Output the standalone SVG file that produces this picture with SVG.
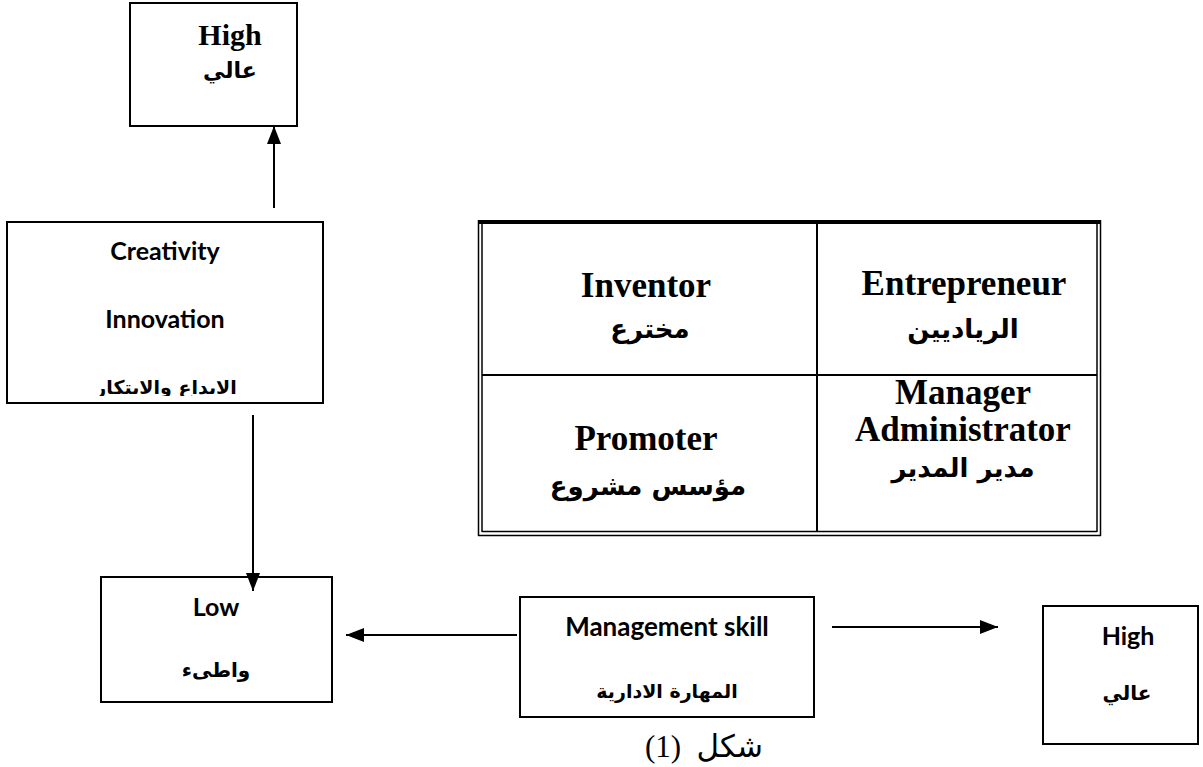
<svg xmlns="http://www.w3.org/2000/svg" width="1203" height="767" viewBox="0 0 1203 767">
<style>
.box{fill:#fff;stroke:#000;stroke-width:2}
.cal{font-family:Lato,"Liberation Sans","DejaVu Sans",sans-serif;font-weight:bold;font-size:25px;text-anchor:middle;fill:#000}
.tnr{font-family:"Liberation Serif","DejaVu Serif",serif;font-weight:bold;font-size:35px;text-anchor:middle;fill:#000}
.ar{font-family:"DejaVu Sans","Noto Sans",sans-serif;font-weight:bold;font-size:19px;text-anchor:middle;fill:#000}
.arT{font-family:"DejaVu Sans","Noto Sans",sans-serif;font-weight:bold;font-size:26px;text-anchor:middle;fill:#000}
.conn{stroke:#000;stroke-width:2;fill:none}
.tl{stroke:#000;fill:none}
</style>
<defs>
<marker id="ah" markerUnits="userSpaceOnUse" markerWidth="20" markerHeight="16" refX="18" refY="8" orient="auto">
<path d="M0,1 L18,8 L0,15 Z" fill="#000"/>
</marker>
<clipPath id="clipC"><rect x="0" y="220" width="330" height="176"/></clipPath>
</defs>

<g id="high-top">
<rect class="box" x="130" y="3" width="167" height="123"/>
<text class="tnr" x="230" y="45" style="font-size:30px">High</text>
<text class="ar" x="230" y="78" direction="rtl" style="font-size:22px">عالي</text>
</g>

<g id="creativity">
<rect class="box" x="7" y="222" width="316" height="181"/>
<text class="cal" x="165" y="260">Creativity</text>
<text class="cal" x="165" y="328">Innovation</text>
<text class="ar" x="166" y="394" direction="rtl" clip-path="url(#clipC)">الابداع والابتكار</text>
</g>

<g id="low">
<rect class="box" x="101" y="577" width="231" height="125"/>
<text class="cal" x="216" y="616">Low</text>
<text class="ar" x="216" y="677" direction="rtl" style="font-size:20px">واطىء</text>
</g>

<g id="management">
<rect class="box" x="520" y="597" width="294" height="120"/>
<text class="cal" x="667" y="636" style="font-size:26px">Management skill</text>
<text class="ar" x="667" y="698" direction="rtl">المهارة الادارية</text>
</g>

<g id="high-right">
<rect class="box" x="1043" y="606" width="155" height="138"/>
<text class="cal" x="1128" y="645">High</text>
<text class="ar" x="1127" y="700" direction="rtl" style="font-size:20px">عالي</text>
</g>

<g id="table">
<line class="tl" x1="478" y1="222" x2="1101" y2="222" stroke-width="4"/>
<line class="tl" x1="478.5" y1="220" x2="478.5" y2="536" stroke-width="1.5"/>
<line class="tl" x1="482" y1="222" x2="482" y2="532" stroke-width="1.5"/>
<line class="tl" x1="1100.5" y1="220" x2="1100.5" y2="536" stroke-width="1.5"/>
<line class="tl" x1="1097" y1="222" x2="1097" y2="532" stroke-width="1.5"/>
<line class="tl" x1="478" y1="535.5" x2="1101" y2="535.5" stroke-width="1.5"/>
<line class="tl" x1="482" y1="531.5" x2="1097" y2="531.5" stroke-width="1.5"/>
<line class="tl" x1="817" y1="224" x2="817" y2="531" stroke-width="2"/>
<line class="tl" x1="482" y1="375" x2="1097" y2="375" stroke-width="2"/>
<text class="tnr" x="646" y="297">Inventor</text>
<text class="arT" x="650" y="338" direction="rtl">مخترع</text>
<text class="tnr" x="646" y="450">Promoter</text>
<text class="arT" x="648" y="495" direction="rtl">مؤسس مشروع</text>
<text class="tnr" x="964" y="295">Entrepreneur</text>
<text class="arT" x="963" y="338" direction="rtl">الرياديين</text>
<text class="tnr" x="963" y="404">Manager</text>
<text class="tnr" x="963" y="441">Administrator</text>
<text class="arT" x="963" y="477" direction="rtl">مدير المدير</text>
</g>

<g id="connectors">
<line class="conn" x1="274" y1="208" x2="274" y2="126" marker-end="url(#ah)"/>
<line class="conn" x1="253" y1="415" x2="253" y2="591" marker-end="url(#ah)"/>
<line class="conn" x1="517" y1="635" x2="346" y2="635" marker-end="url(#ah)"/>
<line class="conn" x1="832" y1="627" x2="998" y2="627" marker-end="url(#ah)"/>
</g>

<g id="caption">
<text x="704" y="757" direction="rtl" xml:space="preserve" style="font-family:'Liberation Serif','DejaVu Sans',serif;font-size:31px;text-anchor:middle;white-space:pre">شكل  (1)</text>
</g>
</svg>
